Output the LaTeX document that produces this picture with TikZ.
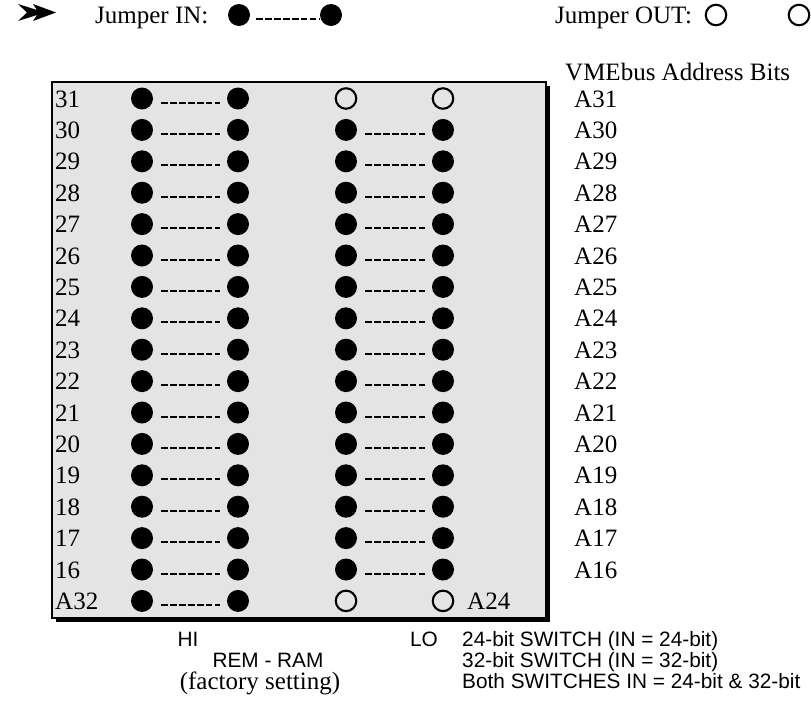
\documentclass[tikz,border=0pt]{standalone}
\usepackage{fontspec}
\setmainfont{Liberation Serif}
\setsansfont{Liberation Sans}
\definecolor{boxgray}{RGB}{228,228,228}
\begin{document}
\begin{tikzpicture}[x=1pt,y=-1pt,
  pin/.style={circle, fill=black, inner sep=0pt, minimum size=22pt},
  ring/.style={circle, draw=black, line width=2.1pt, inner sep=0pt, minimum size=20.5pt},
  link/.style={line width=2pt, dash pattern=on 6.7pt off 2.2pt},
  lab/.style={font=\fontsize{25}{25}\selectfont, inner sep=0pt, anchor=base west},
  swtext/.style={font=\sffamily\fontsize{20.8}{20.8}\selectfont, inner sep=0pt, anchor=base west}]
\useasboundingbox (0,0) rectangle (811,702);
% legend
\fill (18,4) -- (37,10) -- (33,4) -- (56,12.5) -- (33,21) -- (37,15) -- (18,21) -- (27,12.5) -- cycle;
\node[lab] (jin) at (95,23) {Jumper IN:};
\node[pin] (lin1) at (239,15) {};
\node[pin] (lin2) at (331,15) {};
\draw[link] ([shift={(6,4)}]lin1.east) -- ([shift={(-1,4)}]lin2.west);
\node[lab] (jout) at (555,23) {Jumper OUT:};
\node[ring] (lout1) at (716,15) {};
\node[ring] (lout2) at (799,15) {};
\node[lab] (vme) at (565,80) {VMEbus Address Bits};
% box
\fill (56,86) rectangle (550,622);
\draw[fill=boxgray, line width=1.5pt] (52,82) rectangle (546,618);
% rows
\foreach \i/\n in {0/31,1/30,2/29,3/28,4/27,5/26,6/25,7/24,8/23,9/22,10/21,11/20,12/19,13/18,14/17,15/16}{
  \pgfmathsetmacro{\yy}{98.5+31.4*\i}
  \node[lab] (n\n) at (55,\yy+8.5) {\n};
  \node[lab] (a\n) at (574,\yy+8.5) {A\n};
  \node[pin] (h\n a) at (142,\yy) {};
  \node[pin] (h\n b) at (238,\yy) {};
  \draw[link] ([shift={(8,4)}]h\n a.east) -- ([shift={(-7,4)}]h\n b.west);
}
\foreach \n in {30,29,28,27,26,25,24,23,22,21,20,19,18,17,16}{
  \pgfmathsetmacro{\yy}{98.5+31.4*(31-\n)}
  \node[pin] (l\n a) at (346,\yy) {};
  \node[pin] (l\n b) at (443,\yy) {};
  \draw[link] ([shift={(8,4)}]l\n a.east) -- ([shift={(-7,4)}]l\n b.west);
}
\node[ring] (l31a) at (346,98.5) {};
\node[ring] (l31b) at (443,98.5) {};
% A32 row
\node[lab] (na32) at (55,600.9+8.5) {A32};
\node[pin] (hxa) at (142,600.9) {};
\node[pin] (hxb) at (238,600.9) {};
\draw[link] ([shift={(8,4)}]hxa.east) -- ([shift={(-7,4)}]hxb.west);
\node[ring] (lxa) at (346,600.9) {};
\node[ring] (lxb) at (443,600.9) {};
\node[lab] (a24) at (467,600.9+8.5) {A24};
% bottom texts
\node[swtext, anchor=base] (hi) at (188,646) {HI};
\node[swtext, anchor=base] (lo) at (424,646) {LO};
\node[swtext, anchor=base] (rem) at (268,667) {REM - RAM};
\node[lab, anchor=base] (fac) at (260,689) {(factory setting)};
\node[swtext] (s24) at (462,646) {24-bit SWITCH (IN = 24-bit)};
\node[swtext] (s32) at (462,667) {32-bit SWITCH (IN = 32-bit)};
\node[swtext] (sboth) at (462,688) {Both SWITCHES IN = 24-bit \& 32-bit};
\end{tikzpicture}
\end{document}
